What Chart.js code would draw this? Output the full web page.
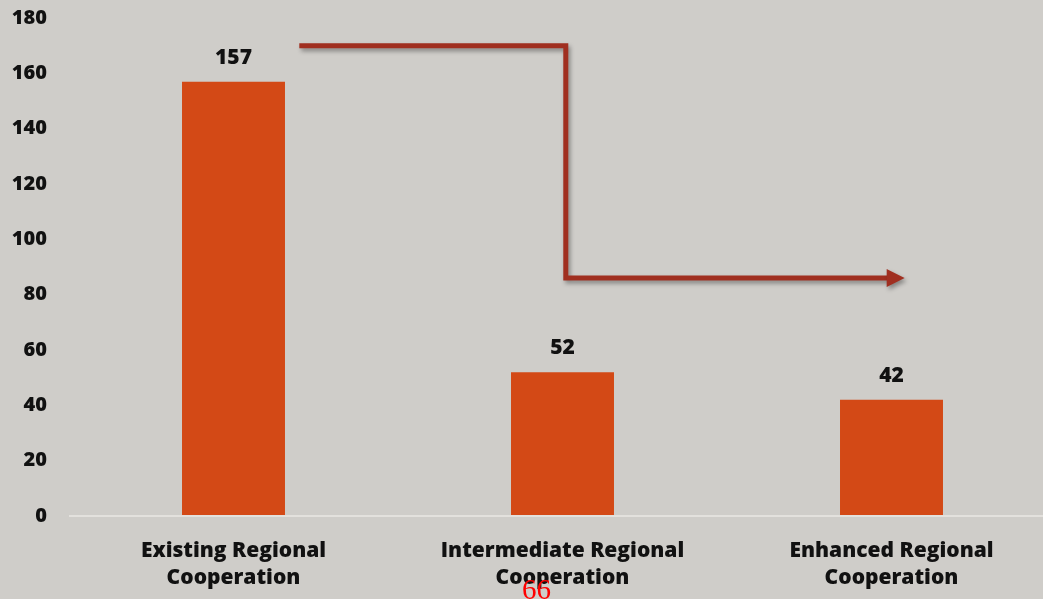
<!DOCTYPE html>
<html>
<head>
<meta charset="utf-8">
<script src="https://cdn.jsdelivr.net/npm/chart.js@4/dist/chart.umd.min.js"></script>
<style>
  html, body { margin: 0; padding: 0; background: #cfcdc9; overflow: hidden; }
  #wrap { position: relative; width: 1058px; height: 599px; }
  #pageNum {
    position: absolute; left: 522px; top: 575px;
    font-family: "Liberation Serif", "DejaVu Serif", serif;
    font-size: 29px; color: #ff0000; line-height: 1;
  }
</style>
</head>
<body>
<div id="wrap">
  <canvas id="myChart" width="1058" height="599"></canvas>
  <div id="pageNum">66</div>
</div>
<script>
const categories = [
  ["Existing Regional", "Cooperation"],
  ["Intermediate Regional", "Cooperation"],
  ["Enhanced Regional", "Cooperation"]
];
const values = [157, 52, 42];
const yTicks = [0, 20, 40, 60, 80, 100, 120, 140, 160, 180];

// arrow path in data units (category index, value)
const arrowPath = [[0.2, 170], [1.01, 170], [1.01, 86], [2.04, 86]];

const labelFont = "'Open Sans', Lato, sans-serif";

const valueLabels = {
  id: "valueLabels",
  afterDatasetsDraw(chart) {
    const ctx = chart.ctx;
    const meta = chart.getDatasetMeta(0);
    ctx.save();
    ctx.font = "800 21px " + labelFont;
    ctx.fillStyle = "#111";
    ctx.textAlign = "center";
    ctx.textBaseline = "middle";
    meta.data.forEach((bar, i) => {
      ctx.fillText(values[i], bar.x, bar.y - 24);
    });
    ctx.restore();
  }
};

const arrow = {
  id: "arrow",
  afterDatasetsDraw(chart) {
    const ctx = chart.ctx;
    const xs = chart.scales.x;
    const ys = chart.scales.y;
    const pts = arrowPath.map(p => [xs.getPixelForValue(p[0]), ys.getPixelForValue(p[1])]);
    ctx.save();
    ctx.shadowColor = "rgba(0,0,0,0.35)";
    ctx.shadowBlur = 4;
    ctx.shadowOffsetX = 2;
    ctx.shadowOffsetY = 3;
    ctx.strokeStyle = "#a02f20";
    ctx.fillStyle = "#a02f20";
    ctx.lineWidth = 5;
    ctx.lineJoin = "miter";
    ctx.beginPath();
    ctx.moveTo(pts[0][0], pts[0][1]);
    for (let i = 1; i < pts.length - 1; i++) ctx.lineTo(pts[i][0], pts[i][1]);
    const end = pts[pts.length - 1];
    ctx.lineTo(end[0] - 16, end[1]);
    ctx.stroke();
    ctx.beginPath();
    ctx.moveTo(end[0], end[1]);
    ctx.lineTo(end[0] - 18, end[1] - 9);
    ctx.lineTo(end[0] - 18, end[1] + 9);
    ctx.closePath();
    ctx.fill();
    ctx.restore();
  }
};

new Chart("myChart", {
  type: "bar",
  data: {
    labels: categories,
    datasets: [
      {
        data: values,
        backgroundColor: "#d34916",
        borderWidth: 0,
        categoryPercentage: 1,
        barPercentage: 0.313
      }
    ]
  },
  options: {
    responsive: false,
    animation: false,
    layout: { autoPadding: false, padding: { top: 18, right: 2, left: 0, bottom: 0 } },
    plugins: { legend: { display: false }, tooltip: { enabled: false } },
    scales: {
      x: {
        grid: { display: false },
        border: { display: false },
        ticks: {
          color: "#111",
          font: { family: labelFont, size: 21, weight: "800", lineHeight: 1.3 },
          padding: 13,
          maxRotation: 0
        },
        afterFit(scale) { scale.height = 83; }
      },
      y: {
        min: 0,
        max: 180,
        afterBuildTicks(scale) { scale.ticks = yTicks.map(v => ({ value: v })); },
        grid: {
          drawTicks: true,
          tickLength: 22,
          tickColor: "rgba(0,0,0,0)",
          lineWidth: 2,
          color: ctx => ctx.tick && ctx.tick.value === 0 ? "#e3e1dd" : "rgba(0,0,0,0)"
        },
        border: { display: false },
        ticks: {
          color: "#111",
          font: { family: labelFont, size: 20, weight: "800" },
          padding: 0
        },
        afterFit(scale) { scale.width = 69; }
      }
    }
  },
  plugins: [valueLabels, arrow]
});
</script>
</body>
</html>
